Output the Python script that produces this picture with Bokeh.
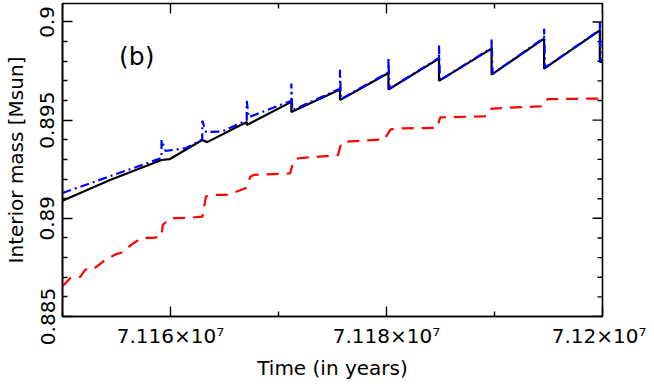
from bokeh.plotting import figure
from bokeh.models import LinearAxis, FixedTicker, Range1d, Label
from bokeh.embed import file_html
from bokeh.resources import INLINE

# ---- data (time in years, interior mass in Msun) ----
black_t = [71150000, 71154400, 71159170, 71159910, 71162940, 71163400, 71167060, 71167060,
           71171190, 71171190, 71175690, 71175690, 71180180, 71180180, 71184860, 71184860,
           71189730, 71189730, 71194590, 71194590, 71199750, 71199750, 71200000]
black_m = [0.89089, 0.89195, 0.89297, 0.89301, 0.89399, 0.89388, 0.89491, 0.89475,
           0.89593, 0.89542, 0.89656, 0.89602, 0.89740, 0.89656, 0.89813, 0.89700,
           0.89864, 0.89732, 0.89915, 0.89762, 0.89957, 0.89796, 0.89796]

blue_t = [71150000, 71159170, 71159170, 71159540, 71161440, 71162940, 71162940, 71163300,
          71164770, 71167060, 71167060, 71167250, 71171190, 71171190, 71171280, 71175690,
          71175690, 71175780, 71180180, 71180180, 71180270, 71184860, 71184860, 71184950,
          71189730, 71189730, 71189820, 71194590, 71194590, 71194680, 71199750, 71199750,
          71199840]
blue_m = [0.89129, 0.89307, 0.89399, 0.89343, 0.89358, 0.89401, 0.89497, 0.89439,
          0.89442, 0.89500, 0.89598, 0.89515, 0.89599, 0.89686, 0.89551, 0.89660,
          0.89757, 0.89607, 0.89744, 0.89821, 0.89660, 0.89817, 0.89881, 0.89703,
          0.89868, 0.89915, 0.89736, 0.89919, 0.89966, 0.89767, 0.89959, 0.89999,
          0.89794]

red_t = [71150000, 71150730, 71151650, 71152110, 71152870, 71153790, 71154860, 71155480,
         71156390, 71157310, 71158380, 71159150, 71159290, 71159910, 71160370, 71162050,
         71162960, 71163280, 71163880, 71165110, 71165720, 71166950, 71167400, 71167710,
         71171070, 71171380, 71171840, 71175510, 71175810, 71176120, 71179790, 71180390,
         71181170, 71184680, 71184980, 71189270, 71189730, 71194470, 71194930, 71199660,
         71200000]
red_m = [0.88654, 0.88696, 0.88702, 0.88739, 0.88742, 0.88781, 0.88815, 0.88826,
         0.88866, 0.88900, 0.88900, 0.88908, 0.88967, 0.88996, 0.89001, 0.89004,
         0.89009, 0.89111, 0.89119, 0.89119, 0.89128, 0.89153, 0.89212, 0.89221,
         0.89229, 0.89288, 0.89306, 0.89322, 0.89382, 0.89390, 0.89402, 0.89453,
         0.89458, 0.89461, 0.89514, 0.89520, 0.89559, 0.89571, 0.89607, 0.89610,
         0.89610]

x_lo, x_hi = 71150000, 71200000
y_lo, y_hi = 0.885, 0.90094

x_major = [71160000, 71180000, 71200000]
x_labels = ["7.116\u00d710\u2077", "7.118\u00d710\u2077", "7.12\u00d710\u2077"]
x_minor = [71150000, 71170000, 71190000]

y_major = [0.885, 0.89, 0.895, 0.9]
y_labels = ["0.885", "0.89", "0.895", "0.9"]
y_minor = [0.886, 0.887, 0.888, 0.889, 0.891, 0.892, 0.893, 0.894,
           0.896, 0.897, 0.898, 0.899]

FONT = "DejaVu Sans"

p = figure(width=646, height=382,
           x_range=Range1d(x_lo, x_hi), y_range=Range1d(y_lo, y_hi),
           output_backend="svg", toolbar_location=None,
           x_axis_location=None, y_axis_location=None,
           min_border_left=62, min_border_right=44, min_border_top=3, min_border_bottom=65)
p.outline_line_color = "black"
p.outline_line_width = 1.6
p.grid.visible = False
p.background_fill_color = "white"
p.border_fill_color = "white"


def style(ax):
    ax.axis_line_color = "black"
    ax.axis_line_width = 1.6
    ax.major_tick_in = 10
    ax.major_tick_out = 0
    ax.minor_tick_in = 5
    ax.minor_tick_out = 0
    ax.major_tick_line_width = 1.4
    ax.minor_tick_line_width = 1.4
    ax.major_tick_line_color = "black"
    ax.minor_tick_line_color = "black"
    ax.major_label_text_font = FONT
    ax.major_label_text_color = "black"
    ax.major_label_text_font_size = "20px"
    ax.axis_label_text_font = FONT
    ax.axis_label_text_font_style = "normal"
    ax.axis_label_text_color = "black"
    ax.axis_label_text_font_size = "20px"


bottom = LinearAxis(ticker=FixedTicker(ticks=x_major, minor_ticks=x_minor),
                    major_label_overrides=dict(zip(x_major, x_labels)),
                    axis_label="Time (in years)")
style(bottom)
bottom.major_label_standoff = 7
bottom.axis_label_standoff = 5
p.add_layout(bottom, "below")

left = LinearAxis(ticker=FixedTicker(ticks=y_major, minor_ticks=y_minor),
                  major_label_overrides=dict(zip(y_major, y_labels)),
                  axis_label="Interior mass [Msun]")
style(left)
left.major_label_orientation = "vertical"
left.major_label_standoff = 8
left.axis_label_standoff = 10
p.add_layout(left, "left")

# inward ticks on the top and right frame edges (clipped to the frame)
p.rect(x=x_major, y=[y_hi] * len(x_major), width=1.4, height=20,
       width_units="screen", height_units="screen", fill_color="black", line_color=None)
p.rect(x=x_minor, y=[y_hi] * len(x_minor), width=1.4, height=10,
       width_units="screen", height_units="screen", fill_color="black", line_color=None)
p.rect(x=[x_hi] * len(y_major), y=y_major, width=20, height=1.4,
       width_units="screen", height_units="screen", fill_color="black", line_color=None)
p.rect(x=[x_hi] * len(y_minor), y=y_minor, width=10, height=1.4,
       width_units="screen", height_units="screen", fill_color="black", line_color=None)

p.line(red_t, red_m, line_color="#ff0000", line_width=2.2, line_dash="12 8")
p.line(black_t, black_m, line_color="black", line_width=2.2)
p.line(blue_t, blue_m, line_color="#0000ff", line_width=2.2, line_dash="9 4 2 4")

p.add_layout(Label(x=71156880, y=0.89825, text="(b)", text_font=FONT,
                   text_font_size="25px", text_align="center", text_baseline="middle",
                   text_color="black"))

open("out.html", "w").write(file_html(p, INLINE))
